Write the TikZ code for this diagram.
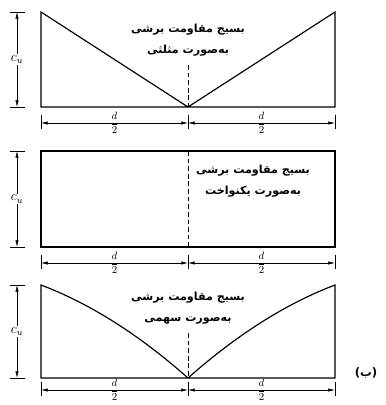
\documentclass[tikz,border=0pt]{standalone}
\usepackage{fontspec}
\usetikzlibrary{arrows.meta,positioning}
\TeXXeTstate=1
\newfontfamily\farsifont[Script=Arabic]{DejaVu Sans}
\newcommand{\fa}[1]{\beginR #1\endR}

\begin{document}
\begin{tikzpicture}[
  x=0.03cm, y=-0.03cm,
  outline/.style={line width=1pt, line join=miter},
  axisline/.style={line width=0.8pt, dash pattern=on 4pt off 2.5pt},
  dimline/.style={{Latex[length=2mm,width=1mm]}-{Latex[length=2mm,width=1mm]}, line width=0.5pt},
  tickline/.style={line width=0.6pt},
  caption/.style={font=\farsifont\bfseries\fontsize{9.5}{11}\selectfont, align=center, inner sep=1pt},
  half/.style={font=\small, inner sep=0pt},
  cu/.style={fill=white, inner sep=1pt, font=\large},
]
  \useasboundingbox (0,0) rectangle (385,405);

  % triangular
  \coordinate (a-tl) at (41,12);
  \coordinate (a-tr) at (335,12);
  \coordinate (a-bl) at (41,107);
  \coordinate (a-bm) at (188,107);
  \coordinate (a-br) at (335,107);
  \coordinate (a-ax) at (188,65);
  \draw[outline] (a-bm) -- (a-bl) -- (a-tl) -- (a-bm) -- (a-tr) -- (a-br) -- cycle;
  \draw[axisline] (a-ax) -- (a-bm);
  \node[caption] (a-text) at (188,40) {\fa{بسیج مقاومت برشی}\\[7pt]\fa{به‌صورت مثلثی}};

  % uniform
  \coordinate (b-tl) at (41,151);
  \coordinate (b-tm) at (188,151);
  \coordinate (b-tr) at (335,151);
  \coordinate (b-bl) at (41,247);
  \coordinate (b-bm) at (188,247);
  \coordinate (b-br) at (335,247);
  \draw[outline] (b-tl) rectangle (b-br);
  \draw[axisline] (b-tm) -- (b-bm);
  \node[caption] (b-text) at (253,181) {\fa{بسیج مقاومت برشی}\\[7pt]\fa{به‌صورت یکنواخت}};

  % parabolic
  \coordinate (c-tl) at (41,285);
  \coordinate (c-tr) at (335,285);
  \coordinate (c-bl) at (41,378);
  \coordinate (c-bm) at (188,378);
  \coordinate (c-br) at (335,378);
  \coordinate (c-ax) at (188,333);
  \draw[outline] (c-bm) -- (c-bl) -- (c-tl)
    .. controls (90,303.6) and (139,334.6) .. (c-bm)
    .. controls (237,334.6) and (286,303.6) .. (c-tr) -- (c-br) -- cycle;
  \draw[axisline] (c-ax) -- (c-bm);
  \node[caption] (c-text) at (188,308) {\fa{بسیج مقاومت برشی}\\[7pt]\fa{به‌صورت سهمی}};

  \node[font=\farsifont\bfseries] (tag) at (366,373) {(ب)};

  % dimensions
  \foreach \p/\top/\bot/\dim in {a/12/107/123, b/151/247/263, c/285/378/390}{
    \draw[tickline] (10,\top) -- (25,\top);
    \draw[tickline] (10,\bot) -- (25,\bot);
    \draw[dimline] (17,\top) -- node[cu] (\p-cu) {$c_u$} (17,\bot);
    \foreach \x in {41,188,335}
      \draw[tickline] (\x,\dim-8) -- (\x,\dim+6);
    \draw[dimline] (41,\dim) -- node[half] (\p-dl) {$\displaystyle\frac{d}{2}$} (188,\dim);
    \draw[dimline] (188,\dim) -- node[half] (\p-dr) {$\displaystyle\frac{d}{2}$} (335,\dim);
  }
\end{tikzpicture}
\end{document}
